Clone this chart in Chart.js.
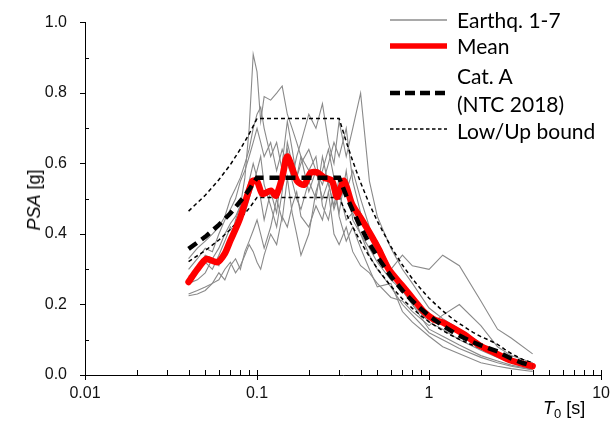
<!DOCTYPE html>
<html><head><meta charset="utf-8">
<script src="https://cdn.jsdelivr.net/npm/chart.js@4"></script>
<style>
body{margin:0;background:#fff;}
#wrap{position:relative;width:614px;height:423px;overflow:hidden;}
#c{position:absolute;left:0;top:0;}
.t{position:absolute;font-family:"Liberation Sans",Arial,sans-serif;font-size:18px;color:#000;white-space:nowrap;line-height:1;}
.lg{position:absolute;font-family:Lato,"Open Sans",sans-serif;font-size:21px;color:#000;white-space:nowrap;line-height:1;}
#lgsvg{position:absolute;left:388px;top:0;}
</style></head><body>
<div id="wrap">
<canvas id="c" width="614" height="423"></canvas>
<div class="t" id="ytitle" style="left:34px;top:200px;transform:translate(-50%,-50%) rotate(-90deg);"><i>PSA</i> [g]</div>
<div class="t" id="xtitle" style="left:543px;top:399px;"><i>T</i><sub style="font-size:13px;vertical-align:-4px;">0</sub> [s]</div>
<svg id="lgsvg" width="64" height="140">
<line x1="2" y1="20" x2="59" y2="20" stroke="#8c8c8c" stroke-width="1.5"/>
<line x1="2" y1="46" x2="59" y2="46" stroke="#ff0000" stroke-width="5.5"/>
<line x1="2" y1="93" x2="59" y2="93" stroke="#000" stroke-width="4.5" stroke-dasharray="10 5"/>
<line x1="2" y1="129" x2="59" y2="129" stroke="#000" stroke-width="1.3" stroke-dasharray="3.5 2.5"/>
</svg>
<div class="lg" style="left:457px;top:9px;">Earthq. 1-7</div>
<div class="lg" style="left:457px;top:35px;">Mean</div>
<div class="lg" style="left:457px;top:65px;">Cat. A</div>
<div class="lg" style="left:457px;top:93px;">(NTC 2018)</div>
<div class="lg" style="left:457px;top:120px;">Low/Up bound</div>
</div>
<script>
// ---- data ----
const periods = [0.04,0.045,0.05,0.055,0.06,0.065,0.07,0.075,0.08,0.085,0.09,0.095,0.1,0.105,0.11,0.12,0.13,0.14,0.15,0.16,0.17,0.18,0.2,0.22,0.24,0.26,0.28,0.3,0.33,0.36,0.4,0.45,0.5,0.6,0.7,0.8,1.0,1.2,1.5,2.0,2.5,3.0,4.0];
const eq1 = [0.26,0.27,0.29,0.33,0.36,0.40,0.43,0.45,0.48,0.56,0.70,0.91,0.86,0.72,0.79,0.78,0.80,0.82,0.74,0.70,0.66,0.62,0.52,0.58,0.50,0.55,0.47,0.52,0.44,0.46,0.40,0.36,0.32,0.27,0.24,0.20,0.15,0.13,0.10,0.07,0.05,0.035,0.022];
const eq2 = [0.30,0.33,0.36,0.35,0.40,0.44,0.47,0.50,0.55,0.58,0.62,0.66,0.70,0.66,0.62,0.66,0.58,0.64,0.60,0.56,0.62,0.66,0.74,0.70,0.77,0.66,0.60,0.72,0.62,0.70,0.80,0.55,0.45,0.36,0.30,0.26,0.19,0.16,0.13,0.09,0.06,0.045,0.03];
const eq3 = [0.33,0.36,0.38,0.40,0.42,0.45,0.50,0.53,0.56,0.60,0.64,0.70,0.74,0.76,0.70,0.62,0.66,0.58,0.64,0.55,0.50,0.47,0.55,0.50,0.62,0.54,0.48,0.56,0.52,0.58,0.50,0.42,0.36,0.30,0.34,0.31,0.30,0.34,0.31,0.21,0.13,0.105,0.06];
const eq4 = [0.23,0.24,0.25,0.26,0.27,0.30,0.32,0.29,0.31,0.34,0.37,0.35,0.32,0.30,0.34,0.40,0.37,0.45,0.42,0.48,0.52,0.45,0.42,0.48,0.44,0.52,0.40,0.37,0.42,0.35,0.31,0.29,0.26,0.22,0.21,0.18,0.14,0.17,0.20,0.14,0.08,0.055,0.035];
const eq5 = [0.28,0.30,0.32,0.30,0.34,0.38,0.42,0.40,0.45,0.50,0.55,0.60,0.56,0.50,0.44,0.52,0.46,0.60,0.72,0.64,0.56,0.60,0.64,0.58,0.54,0.60,0.66,0.62,0.70,0.55,0.46,0.40,0.38,0.30,0.24,0.20,0.13,0.11,0.085,0.055,0.04,0.028,0.016];
const eq6 = [0.225,0.23,0.24,0.26,0.29,0.27,0.31,0.33,0.30,0.35,0.38,0.41,0.44,0.40,0.36,0.42,0.50,0.44,0.56,0.46,0.40,0.34,0.40,0.52,0.58,0.64,0.56,0.45,0.38,0.42,0.36,0.30,0.25,0.26,0.18,0.15,0.11,0.08,0.06,0.035,0.025,0.018,0.01];
const eq7 = [0.27,0.30,0.34,0.33,0.31,0.36,0.38,0.44,0.48,0.46,0.50,0.54,0.58,0.62,0.54,0.48,0.42,0.52,0.66,0.60,0.56,0.62,0.58,0.62,0.48,0.44,0.52,0.46,0.58,0.44,0.40,0.34,0.30,0.25,0.20,0.17,0.12,0.10,0.075,0.05,0.035,0.025,0.014];
const meanT = [0.04,0.045,0.0507,0.0589,0.065,0.0691,0.079,0.0939,0.1,0.1073,0.1205,0.1288,0.14,0.15,0.171,0.188,0.205,0.2235,0.2453,0.273,0.2917,0.32,0.356,0.407,0.465,0.511,0.583,0.694,0.833,0.93,1.063,1.215,1.586,1.98,2.366,2.957,4.0];
const meanPSA = [0.264,0.30,0.329,0.32,0.345,0.375,0.44,0.55,0.55,0.514,0.523,0.509,0.56,0.62,0.55,0.54,0.574,0.575,0.56,0.551,0.505,0.551,0.486,0.44,0.393,0.356,0.30,0.255,0.208,0.18,0.158,0.148,0.116,0.083,0.065,0.042,0.025];
const codeT = [0.04,0.05,0.06,0.07,0.08,0.09,0.1,0.3,0.33,0.36,0.4,0.45,0.5,0.6,0.7,0.8,0.9,1.0,1.2,1.4,1.6,1.8,2.0,2.25,2.5,2.75,3.0,3.5,4.0];
const codePSA = [0.358,0.392,0.426,0.459,0.493,0.526,0.56,0.56,0.509,0.467,0.42,0.373,0.336,0.28,0.24,0.21,0.187,0.168,0.14,0.12,0.105,0.093,0.084,0.075,0.067,0.056,0.047,0.034,0.026];
const upperPSA = [0.465,0.510,0.554,0.597,0.641,0.684,0.728,0.728,0.662,0.607,0.546,0.485,0.437,0.364,0.312,0.273,0.243,0.218,0.182,0.156,0.137,0.121,0.109,0.098,0.087,0.073,0.061,0.044,0.034];
const lowerPSA = [0.322,0.353,0.383,0.413,0.444,0.473,0.504,0.504,0.458,0.420,0.378,0.336,0.302,0.252,0.216,0.189,0.168,0.151,0.126,0.108,0.095,0.084,0.076,0.068,0.060,0.050,0.042,0.031,0.023];
const xTickValues = [0.01,0.1,1,10];
const xTickLabels = ['0.01','0.1','1','10'];
const yTickValues = [0,0.2,0.4,0.6,0.8,1.0];
const yTickLabels = ['0.0','0.2','0.4','0.6','0.8','1.0'];

// ---- build ----
const pts = (xs, ys) => xs.map((x,i)=>({x:x,y:ys[i]}));
const eqs = [eq1,eq2,eq3,eq4,eq5,eq6,eq7];
const datasets = [];
eqs.forEach((e,i)=>datasets.push({label:'Earthq. '+(i+1),data:pts(periods,e),borderColor:'#8a8a8a',borderWidth:1.1,pointRadius:0,tension:0,order:3}));
datasets.push({label:'Upper',data:pts(codeT,upperPSA),borderColor:'#000',borderWidth:1.5,borderDash:[4,3],pointRadius:0,order:2});
datasets.push({label:'Lower',data:pts(codeT,lowerPSA),borderColor:'#000',borderWidth:1.5,borderDash:[4,3],pointRadius:0,order:2});
datasets.push({label:'Mean',data:pts(meanT,meanPSA),borderColor:'#ff0000',borderWidth:6.5,pointRadius:0,tension:0.25,borderJoinStyle:'round',borderCapStyle:'round',order:1});
datasets.push({label:'Cat. A (NTC 2018)',data:pts(codeT,codePSA),borderColor:'#000',borderWidth:4.5,borderDash:[10,6],pointRadius:0,order:0});

const minorTicks = {
  id:'minorTicks',
  afterDraw(chart){
    const {ctx, chartArea:a, scales:{x,y}} = chart;
    ctx.save();
    ctx.strokeStyle='#000'; ctx.lineWidth=1;
    ctx.beginPath();
    [0.01,0.1,1].forEach(d=>{ for(let k=1;k<=9;k++){ const px=Math.round(x.getPixelForValue(k*d))+0.5; ctx.moveTo(px,a.bottom); ctx.lineTo(px,a.bottom-5);} });
    const p10=Math.round(x.getPixelForValue(10))+0.5; ctx.moveTo(p10,a.bottom); ctx.lineTo(p10,a.bottom-5);
    [0.1,0.3,0.5,0.7,0.9].forEach(v=>{ const py=Math.round(y.getPixelForValue(v))+0.5; ctx.moveTo(a.left,py); ctx.lineTo(a.left+4,py); });
    ctx.stroke();
    ctx.restore();
  }
};

new Chart(document.getElementById('c'), {
  type:'line',
  data:{datasets},
  options:{
    responsive:false, animation:false, devicePixelRatio:1,
    layout:{padding:{left:0,right:11,top:15,bottom:0}},
    plugins:{legend:{display:false},tooltip:{enabled:false}},
    scales:{
      x:{type:'logarithmic',min:0.01,max:10,
        afterBuildTicks:s=>{s.ticks=xTickValues.map(v=>({value:v}));},
        afterFit:s=>{s.height=48;},
        ticks:{autoSkip:false,maxRotation:0,padding:4,color:'#111',font:{family:'"Liberation Sans", Arial, sans-serif',size:16},
          callback:(v)=>{const i=xTickValues.findIndex(t=>Math.abs(t-v)<1e-9);return i>=0?xTickLabels[i]:'';}},
        grid:{drawOnChartArea:false,drawTicks:true,tickLength:5,color:'#000'},
        border:{display:true,color:'#000',width:1}},
      y:{min:0,max:1,
        afterBuildTicks:s=>{s.ticks=yTickValues.map(v=>({value:v}));},
        afterFit:s=>{s.width=85;},
        ticks:{padding:13,color:'#111',font:{family:'"Liberation Sans", Arial, sans-serif',size:16},
          callback:(v)=>{const i=yTickValues.findIndex(t=>Math.abs(t-v)<1e-9);return i>=0?yTickLabels[i]:'';}},
        grid:{drawOnChartArea:false,drawTicks:true,tickLength:5,color:'#000'},
        border:{display:true,color:'#000',width:1}}
    }
  },
  plugins:[minorTicks]
});
</script>
</body></html>
